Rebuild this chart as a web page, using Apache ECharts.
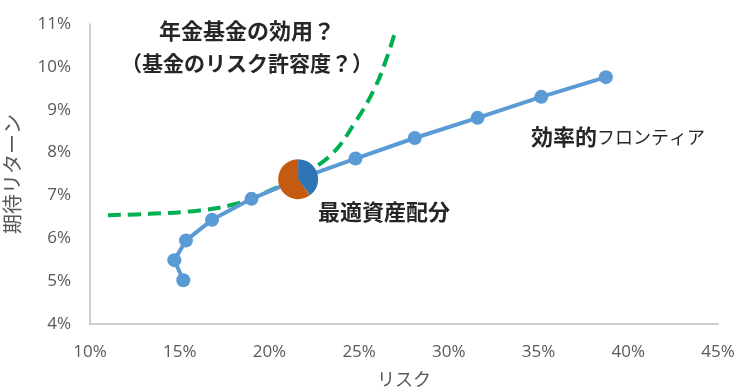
<!DOCTYPE html>
<html>
<head>
<meta charset="utf-8">
<script src="https://cdn.jsdelivr.net/npm/echarts@6/dist/echarts.min.js"></script>
<style>
  html, body { margin: 0; padding: 0; background: #fff; }
  #chart { width: 736px; height: 389px; }
</style>
</head>
<body>
<div id="chart"></div>
<script>
  // efficient frontier (risk %, expected return %)
  const frontierRisk = [15.2, 14.7, 15.35, 16.8, 19.0, 21.6, 24.8, 28.1, 31.6, 35.15, 38.75];
  const frontierReturn = [5.02, 5.49, 5.95, 6.43, 6.92, 7.38, 7.86, 8.34, 8.81, 9.3, 9.76];

  // utility (indifference) curve of the pension fund
  const utilityRisk = [11.0, 13.3, 16.1, 18.1, 19.8, 21.6, 23.4, 24.8, 25.9, 26.6, 26.95];
  const utilityReturn = [6.54, 6.57, 6.65, 6.8, 7.07, 7.45, 7.93, 8.72, 9.53, 10.28, 10.74];

  // optimal allocation: risk, return, share of first asset
  const optimalPoint = [21.6, 7.38, 0.4];

  const xTicks = [10, 15, 20, 25, 30, 35, 40, 45];
  const yTicks = [4, 5, 6, 7, 8, 9, 10, 11];

  const zip = (a, b) => a.map((v, i) => [v, b[i]]);
  const cjk = '"Noto Sans CJK JP", "Noto Sans", sans-serif';

  const chart = echarts.init(document.getElementById('chart'));

  chart.setOption({
    animation: false,
    grid: { left: 90, right: 18, top: 24, bottom: 65, containLabel: false, outerBoundsMode: 'none' },
    xAxis: {
      type: 'value',
      min: xTicks[0],
      max: xTicks[xTicks.length - 1],
      interval: 5,
      name: 'リスク',
      nameLocation: 'middle',
      nameGap: 46,
      nameMoveOverlap: false,
      nameTextStyle: { color: '#595959', fontSize: 18, fontFamily: cjk },
      axisLine: { lineStyle: { color: '#BFBFBF', width: 1.5 } },
      axisTick: { show: false },
      splitLine: { show: false },
      axisLabel: { color: '#595959', fontSize: 17, margin: 20, fontFamily: '"Open Sans", sans-serif', formatter: '{value}%' }
    },
    yAxis: {
      type: 'value',
      min: yTicks[0],
      max: yTicks[yTicks.length - 1],
      interval: 1,
      name: '期待リターン',
      nameLocation: 'middle',
      nameGap: 68,
      nameMoveOverlap: false,
      nameRotate: 90,
      nameTextStyle: { color: '#595959', fontSize: 20, fontFamily: cjk },
      axisLine: { show: true, lineStyle: { color: '#BFBFBF', width: 1.5 } },
      axisTick: { show: false },
      splitLine: { show: false },
      axisLabel: { color: '#595959', fontSize: 17, margin: 19, fontFamily: '"Open Sans", sans-serif', formatter: '{value}%' }
    },
    series: [
      {
        type: 'line',
        data: zip(utilityRisk, utilityReturn),
        smooth: 0.4,
        showSymbol: false,
        lineStyle: { color: '#00B050', width: 4, type: [13, 7] },
        z: 1
      },
      {
        type: 'line',
        data: zip(frontierRisk, frontierReturn),
        symbol: 'circle',
        symbolSize: 14,
        lineStyle: { color: '#5B9BD5', width: 4 },
        itemStyle: { color: '#5B9BD5' },
        z: 2
      },
      {
        type: 'custom',
        data: [optimalPoint],
        z: 3,
        renderItem: (params, api) => {
          const c = api.coord([api.value(0), api.value(1)]);
          const share = api.value(2);
          const r = 20;
          const start = -Math.PI / 2;
          const mid = start + share * Math.PI * 2;
          return {
            type: 'group',
            children: [
              { type: 'sector', shape: { cx: c[0], cy: c[1], r0: 0, r, startAngle: start, endAngle: mid, clockwise: true }, style: { fill: '#2E75B6' } },
              { type: 'sector', shape: { cx: c[0], cy: c[1], r0: 0, r, startAngle: mid, endAngle: start + Math.PI * 2, clockwise: true }, style: { fill: '#C55A11' } }
            ]
          };
        }
      }
    ],
    graphic: [
      {
        type: 'text',
        style: { text: '年金基金の効用？', x: 247, y: 31, align: 'center', verticalAlign: 'middle', fontSize: 22, fontWeight: 'bold', fill: '#262626', fontFamily: cjk }
      },
      {
        type: 'text',
        style: { text: '（基金のリスク許容度？）', x: 247, y: 63, align: 'center', verticalAlign: 'middle', fontSize: 21, fontWeight: 'bold', fill: '#262626', fontFamily: cjk }
      },
      {
        type: 'text',
        style: { text: '最適資産配分', x: 318, y: 212, align: 'left', verticalAlign: 'middle', fontSize: 22, fontWeight: 'bold', fill: '#262626', fontFamily: cjk }
      },
      {
        type: 'text',
        style: {
          text: '{a|効率的}{b|フロンティア}', x: 531, y: 137, align: 'left', verticalAlign: 'middle',
          rich: {
            a: { fontSize: 22, fontWeight: 'bold', fill: '#262626', fontFamily: cjk },
            b: { fontSize: 18, fill: '#262626', fontFamily: cjk }
          }
        }
      }
    ]
  });
</script>
</body>
</html>
